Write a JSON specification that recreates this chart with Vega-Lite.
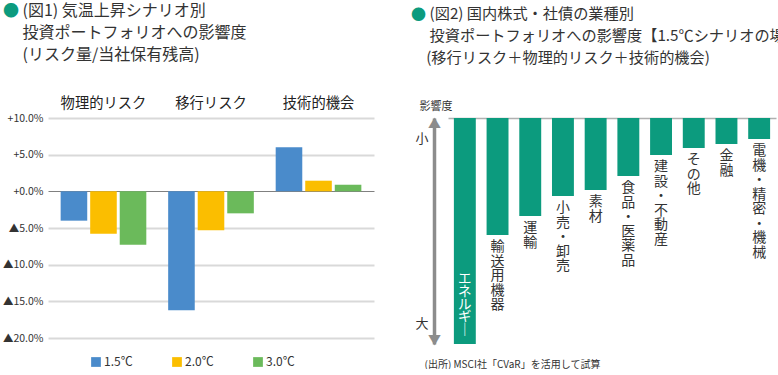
{
  "$schema": "https://vega.github.io/schema/vega-lite/v6.json",
  "padding": {"left": 2, "top": 2, "right": 0, "bottom": 0},
  "spacing": 37,
  "config": {
    "font": "Noto Sans CJK JP",
    "view": {"stroke": null},
    "axis": {"labelFont": "Noto Sans CJK JP", "titleFont": "Noto Sans CJK JP"},
    "legend": {"labelFont": "Noto Sans CJK JP"},
    "title": {"font": "Noto Sans CJK JP", "subtitleFont": "Noto Sans CJK JP"}
  },
  "hconcat": [
    {
      "width": 326,
      "height": 220,
      "title": {
        "text": "●",
        "color": "#0c9b7e",
        "fontSize": 16,
        "fontWeight": "normal",
        "anchor": "start",
        "frame": "group",
        "dx": -45,
        "offset": 33,
        "subtitle": ["\u200b　 (図1) 気温上昇シナリオ別", "\u200b　 投資ポートフォリオへの影響度", "\u200b　 (リスク量/当社保有残高)"],
        "subtitleColor": "#333333",
        "subtitleFontSize": 16,
        "subtitleLineHeight": 22,
        "subtitlePadding": -16.5
      },
      "data": {
        "values": [
          {"risk": "物理的リスク", "scenario": "1.5℃", "value": -4.0},
          {"risk": "物理的リスク", "scenario": "2.0℃", "value": -5.8},
          {"risk": "物理的リスク", "scenario": "3.0℃", "value": -7.3},
          {"risk": "移行リスク", "scenario": "1.5℃", "value": -16.2},
          {"risk": "移行リスク", "scenario": "2.0℃", "value": -5.3},
          {"risk": "移行リスク", "scenario": "3.0℃", "value": -3.0},
          {"risk": "技術的機会", "scenario": "1.5℃", "value": 6.0},
          {"risk": "技術的機会", "scenario": "2.0℃", "value": 1.45},
          {"risk": "技術的機会", "scenario": "3.0℃", "value": 0.9}
        ]
      },
      "mark": {"type": "bar"},
      "encoding": {
        "x": {
          "field": "risk",
          "type": "nominal",
          "sort": ["物理的リスク", "移行リスク", "技術的機会"],
          "scale": {"paddingInner": 0, "paddingOuter": 0.016},
          "axis": {"orient": "top", "title": null, "domain": false, "ticks": false, "labelAngle": 0, "labelFontSize": 14.3, "labelPadding": 8, "labelColor": "#222222"}
        },
        "xOffset": {
          "field": "scenario",
          "type": "nominal",
          "sort": ["1.5℃", "2.0℃", "3.0℃"],
          "scale": {"paddingInner": 0.1, "paddingOuter": 0.37}
        },
        "y": {
          "field": "value",
          "type": "quantitative",
          "scale": {"domain": [-20, 10], "nice": false},
          "axis": {
            "title": null,
            "values": [-20, -15, -10, -5, 0, 5, 10],
            "labelExpr": "datum.value >= 0 ? '+' + format(datum.value, '.1f') + '%' : '▲' + format(-datum.value, '.1f') + '%'",
            "labelFontSize": 10.5,
            "labelColor": "#333333",
            "labelPadding": 5,
            "domain": false,
            "ticks": false,
            "gridColor": {"condition": {"test": "datum.value === 0", "value": "#808080"}, "value": "#d9d9d9"},
            "gridWidth": {"condition": {"test": "datum.value === 0", "value": 1}, "value": 1.8}
          }
        },
        "color": {
          "field": "scenario",
          "type": "nominal",
          "scale": {"domain": ["1.5℃", "2.0℃", "3.0℃"], "range": ["#4a8bcb", "#fbbe00", "#6bba5b"]},
          "legend": {
            "orient": "none",
            "legendX": 42,
            "legendY": 238,
            "direction": "horizontal",
            "title": null,
            "symbolType": "square",
            "symbolSize": 95,
            "symbolStrokeWidth": 0,
            "labelFontSize": 12,
            "labelOffset": 2,
            "labelColor": "#333333",
            "columnPadding": 38
          }
        }
      }
    },
    {
      "width": 328,
      "height": 226,
      "title": {
        "text": "●",
        "color": "#0c9b7e",
        "fontSize": 15,
        "fontWeight": "normal",
        "anchor": "start",
        "frame": "group",
        "dx": -37,
        "offset": 33,
        "subtitle": ["\u200b　 (図2) 国内株式・社債の業種別", "\u200b　 投資ポートフォリオへの影響度【1.5℃シナリオの場合】", "\u200b　(移行リスク＋物理的リスク＋技術的機会)"],
        "subtitleColor": "#333333",
        "subtitleFontSize": 15.2,
        "subtitleLineHeight": 22,
        "subtitlePadding": -16
      },
      "data": {
        "values": [
          {"sector": "エネルギー", "impact": 226},
          {"sector": "輸送用機器", "impact": 117},
          {"sector": "運輸", "impact": 98},
          {"sector": "小売・卸売", "impact": 78},
          {"sector": "素材", "impact": 72},
          {"sector": "食品・医薬品", "impact": 58},
          {"sector": "建設・不動産", "impact": 37},
          {"sector": "その他", "impact": 30},
          {"sector": "金融", "impact": 26},
          {"sector": "電機・精密・機械", "impact": 21}
        ]
      },
      "resolve": {"axis": {"x": "independent", "y": "independent"}},
      "layer": [
        {
          "mark": {"type": "bar", "color": "#0c9b7e"},
          "encoding": {
            "x": {
              "field": "sector",
              "type": "nominal",
              "sort": null,
              "scale": {"paddingInner": 0.33, "paddingOuter": 0.18},
              "axis": {"orient": "top", "title": null, "labels": false, "ticks": false, "domainColor": "#b0b0b0", "domainWidth": 1.5}
            },
            "y": {
              "field": "impact",
              "type": "quantitative",
              "scale": {"domain": [0, 226], "reverse": true, "nice": false},
              "axis": {
                "orient": "left",
                "offset": 14,
                "title": null,
                "grid": false,
                "ticks": false,
                "tickSize": 0,
                "domainColor": "#8c8c8c",
                "domainWidth": 3.5,
                "values": [5, 221],
                "labelExpr": "datum.value < 100 ? '▲' : '▼'",
                "labelAlign": "center",
                "labelBaseline": "middle",
                "labelPadding": 0,
                "labelColor": "#8c8c8c",
                "labelFontSize": 13,
                "labelOverlap": false,
                "labelBound": false,
                "labelFlush": false
              }
            }
          }
        },
        {
          "transform": [
            {"filter": "datum.sector !== 'エネルギー'"},
            {"calculate": "split(datum.sector, '')", "as": "chars"}
          ],
          "mark": {"type": "text", "baseline": "top", "dy": 5, "fontSize": 14, "lineHeight": 14.5, "color": "#333333"},
          "encoding": {
            "x": {
              "field": "sector",
              "type": "nominal",
              "sort": null,
              "axis": {
                "orient": "bottom",
                "labels": false,
                "ticks": false,
                "domain": false,
                "title": "(出所) MSCI社「CVaR」を活用して試算",
                "titleX": -24,
                "titleY": 20,
                "titleAlign": "left",
                "titleBaseline": "middle",
                "titleFontSize": 10,
                "titleFontWeight": "normal",
                "titleColor": "#333333"
              }
            },
            "y": {
              "field": "impact",
              "type": "quantitative",
              "axis": {
                "orient": "left",
                "offset": 14,
                "domain": false,
                "ticks": false,
                "grid": false,
                "values": [20, 205],
                "labelExpr": "datum.value < 100 ? '小' : '大'",
                "labelFontSize": 13,
                "labelPadding": 6,
                "labelColor": "#333333",
                "labelOverlap": false,
                "labelBound": false,
                "labelFlush": false,
                "title": "影響度",
                "titleAngle": 0,
                "titleX": -15,
                "titleY": -12,
                "titleAlign": "left",
                "titleBaseline": "middle",
                "titleFontSize": 11,
                "titleFontWeight": "normal",
                "titleColor": "#333333"
              }
            },
            "text": {"field": "chars", "type": "nominal"}
          }
        },
        {
          "transform": [
            {"filter": "datum.sector === 'エネルギー'"},
            {"calculate": "split(replace(datum.sector, 'ー', '｜'), '')", "as": "chars"}
          ],
          "mark": {"type": "text", "baseline": "top", "dy": -72, "fontSize": 13.5, "lineHeight": 12.8, "color": "#ffffff"},
          "encoding": {
            "x": {"field": "sector", "type": "nominal", "sort": null, "axis": null},
            "y": {"field": "impact", "type": "quantitative", "axis": null},
            "text": {"field": "chars", "type": "nominal"}
          }
        }
      ]
    }
  ]
}
